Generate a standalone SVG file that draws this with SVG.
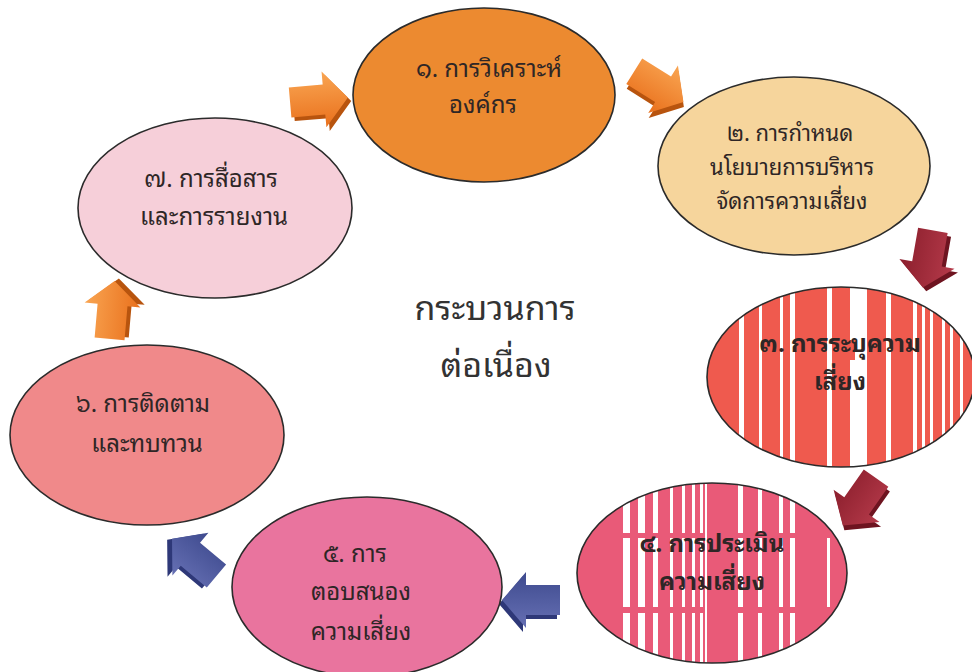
<svg xmlns="http://www.w3.org/2000/svg" xmlns:xlink="http://www.w3.org/1999/xlink" width="972" height="672" viewBox="0 0 972 672">
<defs>
<style>
.node{stroke:#2b2b2b;stroke-width:1.6}
.t{font-family:"Noto Sans Thai Looped","Noto Sans Thai","Noto Sans","DejaVu Sans",sans-serif;font-size:24px;fill:#2e2626;text-anchor:middle}
.s{font-size:22px}
.b{font-weight:bold}
.c{font-family:"Noto Sans Thai Looped","Noto Sans Thai","Noto Sans","DejaVu Sans",sans-serif;font-size:34px;fill:#333;text-anchor:middle}
.st{fill:#ffffff}
</style>
<linearGradient id="gO" x1="0" y1="0" x2="0" y2="1">
<stop offset="0" stop-color="#F9A552"/><stop offset="1" stop-color="#E9701C"/>
</linearGradient>
<linearGradient id="gR" x1="0" y1="0" x2="0" y2="1">
<stop offset="0" stop-color="#B53A4A"/><stop offset="1" stop-color="#8C1F2D"/>
</linearGradient>
<linearGradient id="gB" x1="0" y1="0" x2="0" y2="1">
<stop offset="0" stop-color="#6670B4"/><stop offset="1" stop-color="#3E4A8E"/>
</linearGradient>
<path id="ar" d="M-28,-15 L6,-15 L6,-28 L30,0 L6,28 L6,15 L-28,15 Z"/>
<clipPath id="c3"><ellipse cx="841" cy="377" rx="134" ry="90"/></clipPath>
<clipPath id="c4"><ellipse cx="712" cy="573" rx="135" ry="90"/></clipPath>
</defs>
<rect width="972" height="672" fill="#ffffff"/>

<g id="connectors">
<g transform="translate(318,100) rotate(-5)"><use xlink:href="#ar" x="3" y="4" fill="#B8540E"/><use xlink:href="#ar" fill="url(#gO)"/></g>
<g transform="translate(658,86) rotate(32)"><use xlink:href="#ar" x="3" y="4" fill="#B8540E"/><use xlink:href="#ar" fill="url(#gO)"/></g>
<g transform="translate(928,258) rotate(100)"><use xlink:href="#ar" x="3" y="-4" fill="#6E1420"/><use xlink:href="#ar" fill="url(#gR)"/></g>
<g transform="translate(860,501) rotate(125)"><use xlink:href="#ar" x="3" y="-4" fill="#6E1420"/><use xlink:href="#ar" fill="url(#gR)"/></g>
<g transform="translate(532,600) rotate(180)"><use xlink:href="#ar" x="3" y="-4" fill="#2E3878"/><use xlink:href="#ar" fill="url(#gB)"/></g>
<g transform="translate(195,558) rotate(-140)"><use xlink:href="#ar" x="3" y="-4" fill="#2E3878"/><use xlink:href="#ar" fill="url(#gB)"/></g>
<g transform="translate(112,311) rotate(-85)"><use xlink:href="#ar" x="3" y="4" fill="#B8540E"/><use xlink:href="#ar" fill="url(#gO)"/></g>
</g>

<g id="node1">
<ellipse class="node" cx="484" cy="95" rx="131" ry="87" fill="#EC8A30"/>
<text class="t" x="489" y="77">๑. การวิเคราะห์</text>
<text class="t" x="483" y="113">องค์กร</text>
</g>

<g id="node2">
<ellipse class="node" cx="794" cy="166" rx="136" ry="89" fill="#F6D59C"/>
<text class="t s" x="790" y="141">๒. การกำหนด</text>
<text class="t s" x="792" y="175">นโยบายการบริหาร</text>
<text class="t s" x="792" y="209">จัดการความเสี่ยง</text>
</g>

<g id="node3">
<ellipse cx="841" cy="377" rx="134" ry="90" fill="#EF5A4E"/>
<g clip-path="url(#c3)">
<rect class="st" x="739" y="280" width="5" height="200"/>
<rect class="st" x="759" y="280" width="3" height="200"/>
<rect class="st" x="780" y="280" width="3" height="200"/>
<rect class="st" x="790" y="280" width="5" height="200"/>
<rect class="st" x="827" y="280" width="5" height="200"/>
<rect class="st" x="850" y="280" width="17" height="60"/>
<rect class="st" x="855" y="340" width="12" height="20"/>
<rect class="st" x="850" y="360" width="17" height="120"/>
<rect class="st" x="886" y="280" width="5" height="200"/>
<rect class="st" x="913" y="280" width="4" height="200"/>
<rect class="st" x="922" y="280" width="3" height="200"/>
<rect class="st" x="930" y="280" width="3" height="200"/>
<rect class="st" x="942" y="280" width="3" height="200"/>
<rect class="st" x="950" y="280" width="3" height="200"/>
<rect class="st" x="960" y="280" width="3" height="200"/>
</g>
<ellipse class="node" cx="841" cy="377" rx="134" ry="90" fill="none"/>
<text class="t b" x="840" y="352">๓. การระบุความ</text>
<text class="t b" x="840" y="390">เสี่ยง</text>
</g>

<g id="node4">
<ellipse cx="712" cy="573" rx="135" ry="90" fill="#E95A78"/>
<g clip-path="url(#c4)" class="st">
<rect x="623" y="480" width="7" height="53"/><rect x="623" y="538" width="7" height="69"/><rect x="623" y="613" width="7" height="55"/>
<rect x="638" y="480" width="7" height="53"/><rect x="638" y="538" width="7" height="69"/><rect x="638" y="613" width="7" height="55"/>
<rect x="653" y="480" width="5" height="53"/><rect x="653" y="538" width="5" height="69"/><rect x="653" y="613" width="5" height="55"/>
<rect x="670" y="480" width="3" height="53"/><rect x="670" y="538" width="3" height="69"/><rect x="670" y="613" width="3" height="55"/>
<rect x="682" y="480" width="3" height="53"/><rect x="682" y="538" width="3" height="69"/><rect x="682" y="613" width="3" height="55"/>
<rect x="692" y="480" width="3" height="53"/><rect x="692" y="538" width="3" height="69"/><rect x="692" y="613" width="3" height="55"/>
<rect x="700" y="480" width="3" height="53"/><rect x="700" y="538" width="3" height="69"/><rect x="700" y="613" width="3" height="55"/>
<rect x="705" y="480" width="2" height="190"/>
<rect x="738" y="480" width="5" height="53"/><rect x="738" y="538" width="5" height="69"/><rect x="738" y="613" width="5" height="55"/>
<rect x="758" y="480" width="4" height="53"/><rect x="758" y="538" width="4" height="69"/><rect x="758" y="613" width="4" height="55"/>
<rect x="779" y="480" width="4" height="53"/><rect x="779" y="538" width="4" height="69"/><rect x="779" y="613" width="4" height="55"/>
<rect x="790" y="480" width="5" height="53"/><rect x="790" y="538" width="5" height="69"/><rect x="790" y="613" width="5" height="55"/>
<rect x="827" y="538" width="3" height="69"/>
</g>
<ellipse class="node" cx="712" cy="573" rx="135" ry="90" fill="none"/>
<text class="t b" x="712" y="552">๔. การประเมิน</text>
<text class="t b" x="712" y="590">ความเสี่ยง</text>
</g>

<g id="node5">
<ellipse class="node" cx="367" cy="587" rx="135" ry="90" fill="#E9749E"/>
<text class="t" x="355" y="562">๕. การ</text>
<text class="t" x="361" y="600">ตอบสนอง</text>
<text class="t" x="361" y="640">ความเสี่ยง</text>
</g>

<g id="node6">
<ellipse class="node" cx="147" cy="435" rx="137" ry="90" fill="#F0898A"/>
<text class="t" x="143" y="412">๖. การติดตาม</text>
<text class="t" x="147" y="452">และทบทวน</text>
</g>

<g id="node7">
<ellipse class="node" cx="215" cy="208" rx="137" ry="90" fill="#F6CFD9"/>
<text class="t" x="211" y="187">๗. การสื่อสาร</text>
<text class="t" x="214" y="225">และการรายงาน</text>
</g>

<g id="center">
<text class="c" x="495" y="320">กระบวนการ</text>
<text class="c" x="496" y="377">ต่อเนื่อง</text>
</g>
</svg>
